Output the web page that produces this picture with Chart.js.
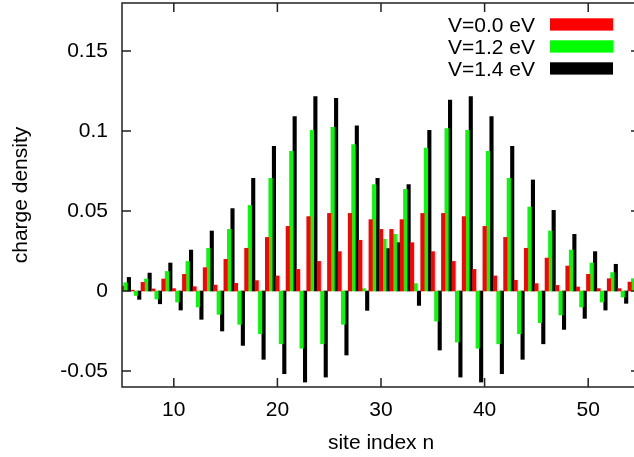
<!DOCTYPE html>
<html><head><meta charset="utf-8">
<script src="https://cdn.jsdelivr.net/npm/chart.js@4.4.1/dist/chart.umd.min.js"></script>
<style>
html,body{margin:0;padding:0;background:#fff;overflow:hidden;width:634px;height:457px}
#wrap{position:relative;width:634px;height:457px;overflow:hidden}
canvas{display:block;position:absolute;left:0;top:0}
</style></head>
<body><div id="wrap"><canvas id="c" width="645" height="457"></canvas></div>
<script>
const sites = [5,6,7,8,9,10,11,12,13,14,15,16,17,18,19,20,21,22,23,24,25,26,27,28,29,30,31,32,33,34,35,36,37,38,39,40,41,42,43,44,45,46,47,48,49,50,51,52,53,54];
const seriesNames = ['V=0.0 eV', 'V=1.2 eV', 'V=1.4 eV'];
const rhoV00 = [0.0030,0.0005,0.0054,0.0013,0.0075,0.0015,0.0104,0.0027,0.0146,0.0037,0.0198,0.0048,0.0267,0.0065,0.0335,0.0094,0.0404,0.0135,0.0465,0.0185,0.0485,0.0246,0.0485,0.0317,0.0446,0.0385,0.0385,0.0446,0.0302,0.0485,0.0246,0.0485,0.0185,0.0465,0.0135,0.0404,0.0094,0.0335,0.0067,0.0267,0.0046,0.0206,0.0035,0.0156,0.0025,0.0104,0.0015,0.0077,0.0015,0.0056];
const rhoV12 = [0.0052,-0.0028,0.0075,-0.0050,0.0122,-0.0069,0.0185,-0.0100,0.0267,-0.0146,0.0385,-0.0208,0.0535,-0.0267,0.0704,-0.0330,0.0873,-0.0358,0.1004,-0.0330,0.1023,-0.0208,0.0915,0.0015,0.0665,0.0323,0.0354,0.0635,0.0046,0.0894,-0.0188,0.1015,-0.0319,0.1004,-0.0358,0.0873,-0.0330,0.0704,-0.0267,0.0525,-0.0198,0.0375,-0.0150,0.0256,-0.0100,0.0175,-0.0069,0.0115,-0.0038,0.0077];
const rhoV14 = [0.0085,-0.0052,0.0112,-0.0080,0.0175,-0.0119,0.0256,-0.0177,0.0375,-0.0250,0.0515,-0.0340,0.0704,-0.0427,0.0904,-0.0517,0.1090,-0.0569,0.1215,-0.0538,0.1204,-0.0400,0.1033,-0.0121,0.0704,0.0265,0.0302,0.0665,-0.0090,0.1004,-0.0369,0.1194,-0.0538,0.1215,-0.0569,0.1090,-0.0517,0.0904,-0.0427,0.0694,-0.0330,0.0504,-0.0240,0.0354,-0.0171,0.0246,-0.0119,0.0167,-0.0077,0.0115];
const xTicks = [10, 20, 30, 40, 50];
const xTickLabels = ['10', '20', '30', '40', '50'];
const yTicks = [-0.05, 0, 0.05, 0.1, 0.15];
const yTickLabels = ['-0.05', '0', '0.05', '0.1', '0.15'];

const colors = ['#ff0000', '#00ff00', '#000000'];
const offsets = [0, 1/3, 2/3];
const FONT = 'Liberation Sans';
const FS = 21;

const series = [rhoV00, rhoV12, rhoV14];
const datasets = series.map((vals, k) => ({
  label: seriesNames[k],
  data: sites.map((n, i) => ({x: n + offsets[k], y: vals[i]})),
  backgroundColor: colors[k],
  borderWidth: 0,
  grouped: false,
  barPercentage: 1,
  categoryPercentage: 1,
  clip: 0
}));

const framePlugin = {
  id: 'frame',
  afterDraw(chart) {
    const {ctx, chartArea: a, scales: {x, y}} = chart;
    ctx.save();
    ctx.strokeStyle = '#222';
    ctx.lineWidth = 1.5;
    ctx.beginPath();
    // left, top and bottom frame lines (right edge of the frame lies outside the picture)
    ctx.moveTo(a.right + 1, a.top); ctx.lineTo(a.left, a.top); ctx.lineTo(a.left, a.bottom); ctx.lineTo(a.right + 1, a.bottom);
    const L = 9;
    for (const v of xTicks) {
      const px = x.getPixelForValue(v);
      ctx.moveTo(px, a.bottom); ctx.lineTo(px, a.bottom - L);
      ctx.moveTo(px, a.top); ctx.lineTo(px, a.top + L);
    }
    for (const v of yTicks) {
      const py = y.getPixelForValue(v);
      ctx.moveTo(a.left, py); ctx.lineTo(a.left + L, py);
      ctx.moveTo(a.right, py); ctx.lineTo(a.right - L, py);
    }
    ctx.stroke();
    // key
    ctx.font = FS + 'px "' + FONT + '"';
    ctx.textAlign = 'right';
    ctx.textBaseline = 'alphabetic';
    chart.data.datasets.forEach((ds, k) => {
      const base = 31.8 + k * 22;
      ctx.fillStyle = '#000';
      ctx.fillText(ds.label, 535, base);
      ctx.fillStyle = ds.backgroundColor;
      ctx.fillRect(550, base - 13.5, 63, 12.3);
    });
    ctx.restore();
  }
};

const noPad = s => { s.paddingTop = 0; s.paddingBottom = 0; s.paddingLeft = 0; s.paddingRight = 0; };

new Chart(document.getElementById('c'), {
  type: 'bar',
  data: {datasets},
  options: {
    responsive: false,
    devicePixelRatio: 1,
    animation: false,
    layout: {padding: {left: 0, top: 3, right: 5, bottom: 0}},
    plugins: {legend: {display: false}, tooltip: {enabled: false}},
    scales: {
      x: {
        type: 'linear', min: 5, max: 55, offset: false,
        grid: {display: false, drawTicks: false},
        border: {display: false},
        afterBuildTicks: s => { s.ticks = xTicks.map(v => ({value: v})); },
        afterFit: s => { s.height = 70; noPad(s); },
        ticks: {
          padding: 11, color: '#000', maxRotation: 0, autoSkip: false,
          font: {family: FONT, size: FS},
          callback: (v) => xTickLabels[xTicks.indexOf(v)]
        },
        title: {display: true, text: 'site index n', color: '#000',
          font: {family: FONT, size: FS}, padding: {top: 0, bottom: 1}}
      },
      y: {
        min: -0.06, max: 0.18,
        grid: {display: false, drawTicks: false},
        border: {display: false},
        afterBuildTicks: s => { s.ticks = yTicks.map(v => ({value: v})); },
        afterFit: s => { s.width = 122; noPad(s); },
        ticks: {
          padding: 14, color: '#000', autoSkip: false,
          font: {family: FONT, size: FS},
          callback: (v) => { const i = yTicks.findIndex(t => Math.abs(t - v) < 1e-9); return i >= 0 ? yTickLabels[i] : ''; }
        },
        title: {display: true, text: 'charge density', color: '#000',
          font: {family: FONT, size: FS}, padding: {top: 9, bottom: 0}}
      }
    }
  },
  plugins: [framePlugin]
});
</script>
</body></html>
